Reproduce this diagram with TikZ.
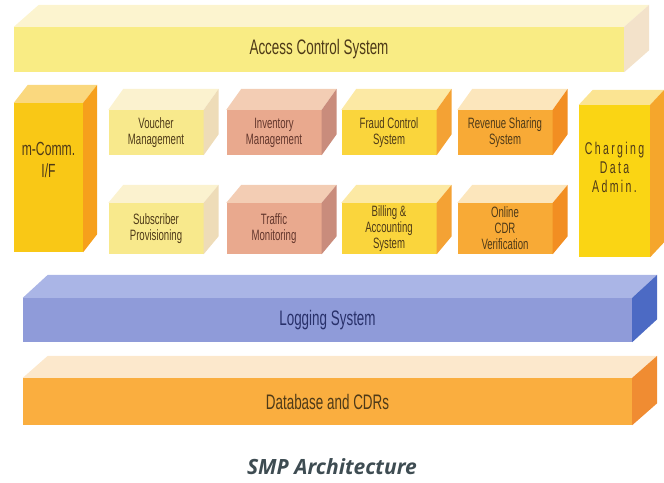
\documentclass[tikz,border=0pt]{standalone}
\usepackage{fontspec}
\setmainfont{Liberation Sans}
\newfontfamily\cond[FakeStretch=0.64]{Liberation Sans}
\newfontfamily\spaced[FakeStretch=0.62,LetterSpace=14]{Liberation Sans}
\newfontfamily\capfont{Open Sans}

\definecolor{acsfront}{HTML}{F9EC84}
\definecolor{acstop}{HTML}{FCF4CF}
\definecolor{acsside}{HTML}{F3E2CA}
\definecolor{goldfront}{HTML}{F9C816}
\definecolor{goldtop}{HTML}{FAD87E}
\definecolor{goldside}{HTML}{F6A01C}
\definecolor{palefront}{HTML}{F8E98C}
\definecolor{paletop}{HTML}{FBF2CF}
\definecolor{paleside}{HTML}{EEDCB8}
\definecolor{salfront}{HTML}{E9A98E}
\definecolor{saltop}{HTML}{F3CDB4}
\definecolor{salside}{HTML}{C98C7C}
\definecolor{yelfront}{HTML}{FAD53C}
\definecolor{yeltop}{HTML}{FCE9A4}
\definecolor{yelside}{HTML}{F4A234}
\definecolor{orfront}{HTML}{F8AA36}
\definecolor{ortop}{HTML}{FCE6BC}
\definecolor{orside}{HTML}{F28E22}
\definecolor{chgfront}{HTML}{FAD514}
\definecolor{chgtop}{HTML}{FBE492}
\definecolor{chgside}{HTML}{F5A62C}
\definecolor{logfront}{HTML}{8F9BD9}
\definecolor{logtop}{HTML}{AAB5E6}
\definecolor{logside}{HTML}{4C6AC4}
\definecolor{dbfront}{HTML}{FAAE3F}
\definecolor{dbtop}{HTML}{FCE8CC}
\definecolor{dbside}{HTML}{F08C32}
\definecolor{inkbrown}{HTML}{4E3A18}
\definecolor{inkred}{HTML}{63362C}
\definecolor{inknavy}{HTML}{28306A}
\definecolor{capgrey}{HTML}{3E4C52}

% top and right faces of a block: node, dx, dy, top colour, side colour
\newcommand{\blockfaces}[5]{%
\fill[#4] (#1.north west) -- ++(#2,-#3) -- ([shift={(#2,-#3)}]#1.north east) -- (#1.north east) -- cycle;
\fill[#5] (#1.north east) -- ([shift={(#2,-#3)}]#1.north east) -- ([shift={(#2,-#3)}]#1.south east) -- (#1.south east) -- cycle;
}

\begin{document}
\begin{tikzpicture}[x=1pt,y=-1pt,
  block/.style={inner sep=0pt,align=center,text=inkbrown,
    font=\cond\fontsize{15}{16}\selectfont},
  bar/.style={block,minimum width=609pt,font=\cond\fontsize{21}{23}\selectfont},
  small/.style={block,minimum width=95pt}]
\useasboundingbox (0,0) rectangle (664,482);
\path
(319,49.5)   node[bar,fill=acsfront,minimum width=610pt,minimum height=45pt] (acs) {Access Control System}
(48.5,177.5) node[block,fill=goldfront,minimum width=69pt,minimum height=149pt,
               font=\cond\fontsize{19}{22}\selectfont] (mcomm) {m-Comm.\\I/F\\[14pt]}
(156,132.5)  node[small,fill=palefront,minimum height=45pt] (vouch) {Voucher\\Management}
(274,132.5)  node[small,fill=salfront,minimum height=45pt,text=inkred] (inv) {Inventory\\Management}
(389,132.5)  node[small,fill=yelfront,minimum height=45pt] (fraud) {Fraud Control\\System}
(505,132.5)  node[small,fill=orfront,minimum height=45pt] (rev) {Revenue Sharing\\System}
(156,228.5)  node[small,fill=palefront,minimum height=51pt] (subs) {Subscriber\\Provisioning}
(274,228.5)  node[small,fill=salfront,minimum height=51pt,text=inkred] (traf) {Traffic\\Monitoring}
(389,228.5)  node[small,fill=yelfront,minimum height=51pt] (bill) {Billing \&\\Accounting\\System}
(505,228.5)  node[small,fill=orfront,minimum height=51pt] (cdr) {Online\\CDR\\Verification}
(614.5,181)  node[block,fill=chgfront,minimum width=71pt,minimum height=152pt,
               font=\spaced\fontsize{17}{19}\selectfont] (chg) {Charging\\Data\\Admin.\\[8pt]}
(327.5,320)  node[bar,fill=logfront,minimum height=44pt,text=inknavy] (log) {Logging System}
(327.5,401.5) node[bar,fill=dbfront,minimum height=47pt] (db) {Database and CDRs}
(332,467)    node[text=capgrey,font=\capfont\bfseries\itshape\fontsize{21}{24}\selectfont] (cap) {SMP Architecture};
\blockfaces{acs}{25}{22}{acstop}{acsside}
\blockfaces{mcomm}{14}{18}{goldtop}{goldside}
\blockfaces{vouch}{15}{21}{paletop}{paleside}
\blockfaces{inv}{15}{21}{saltop}{salside}
\blockfaces{fraud}{15}{21}{yeltop}{yelside}
\blockfaces{rev}{15}{21}{ortop}{orside}
\blockfaces{subs}{15}{18}{paletop}{paleside}
\blockfaces{traf}{15}{18}{saltop}{salside}
\blockfaces{bill}{15}{18}{yeltop}{yelside}
\blockfaces{cdr}{15}{18}{ortop}{orside}
\blockfaces{chg}{14}{15}{chgtop}{chgside}
\blockfaces{log}{25}{23}{logtop}{logside}
\blockfaces{db}{25}{22}{dbtop}{dbside}
\end{tikzpicture}
\end{document}
